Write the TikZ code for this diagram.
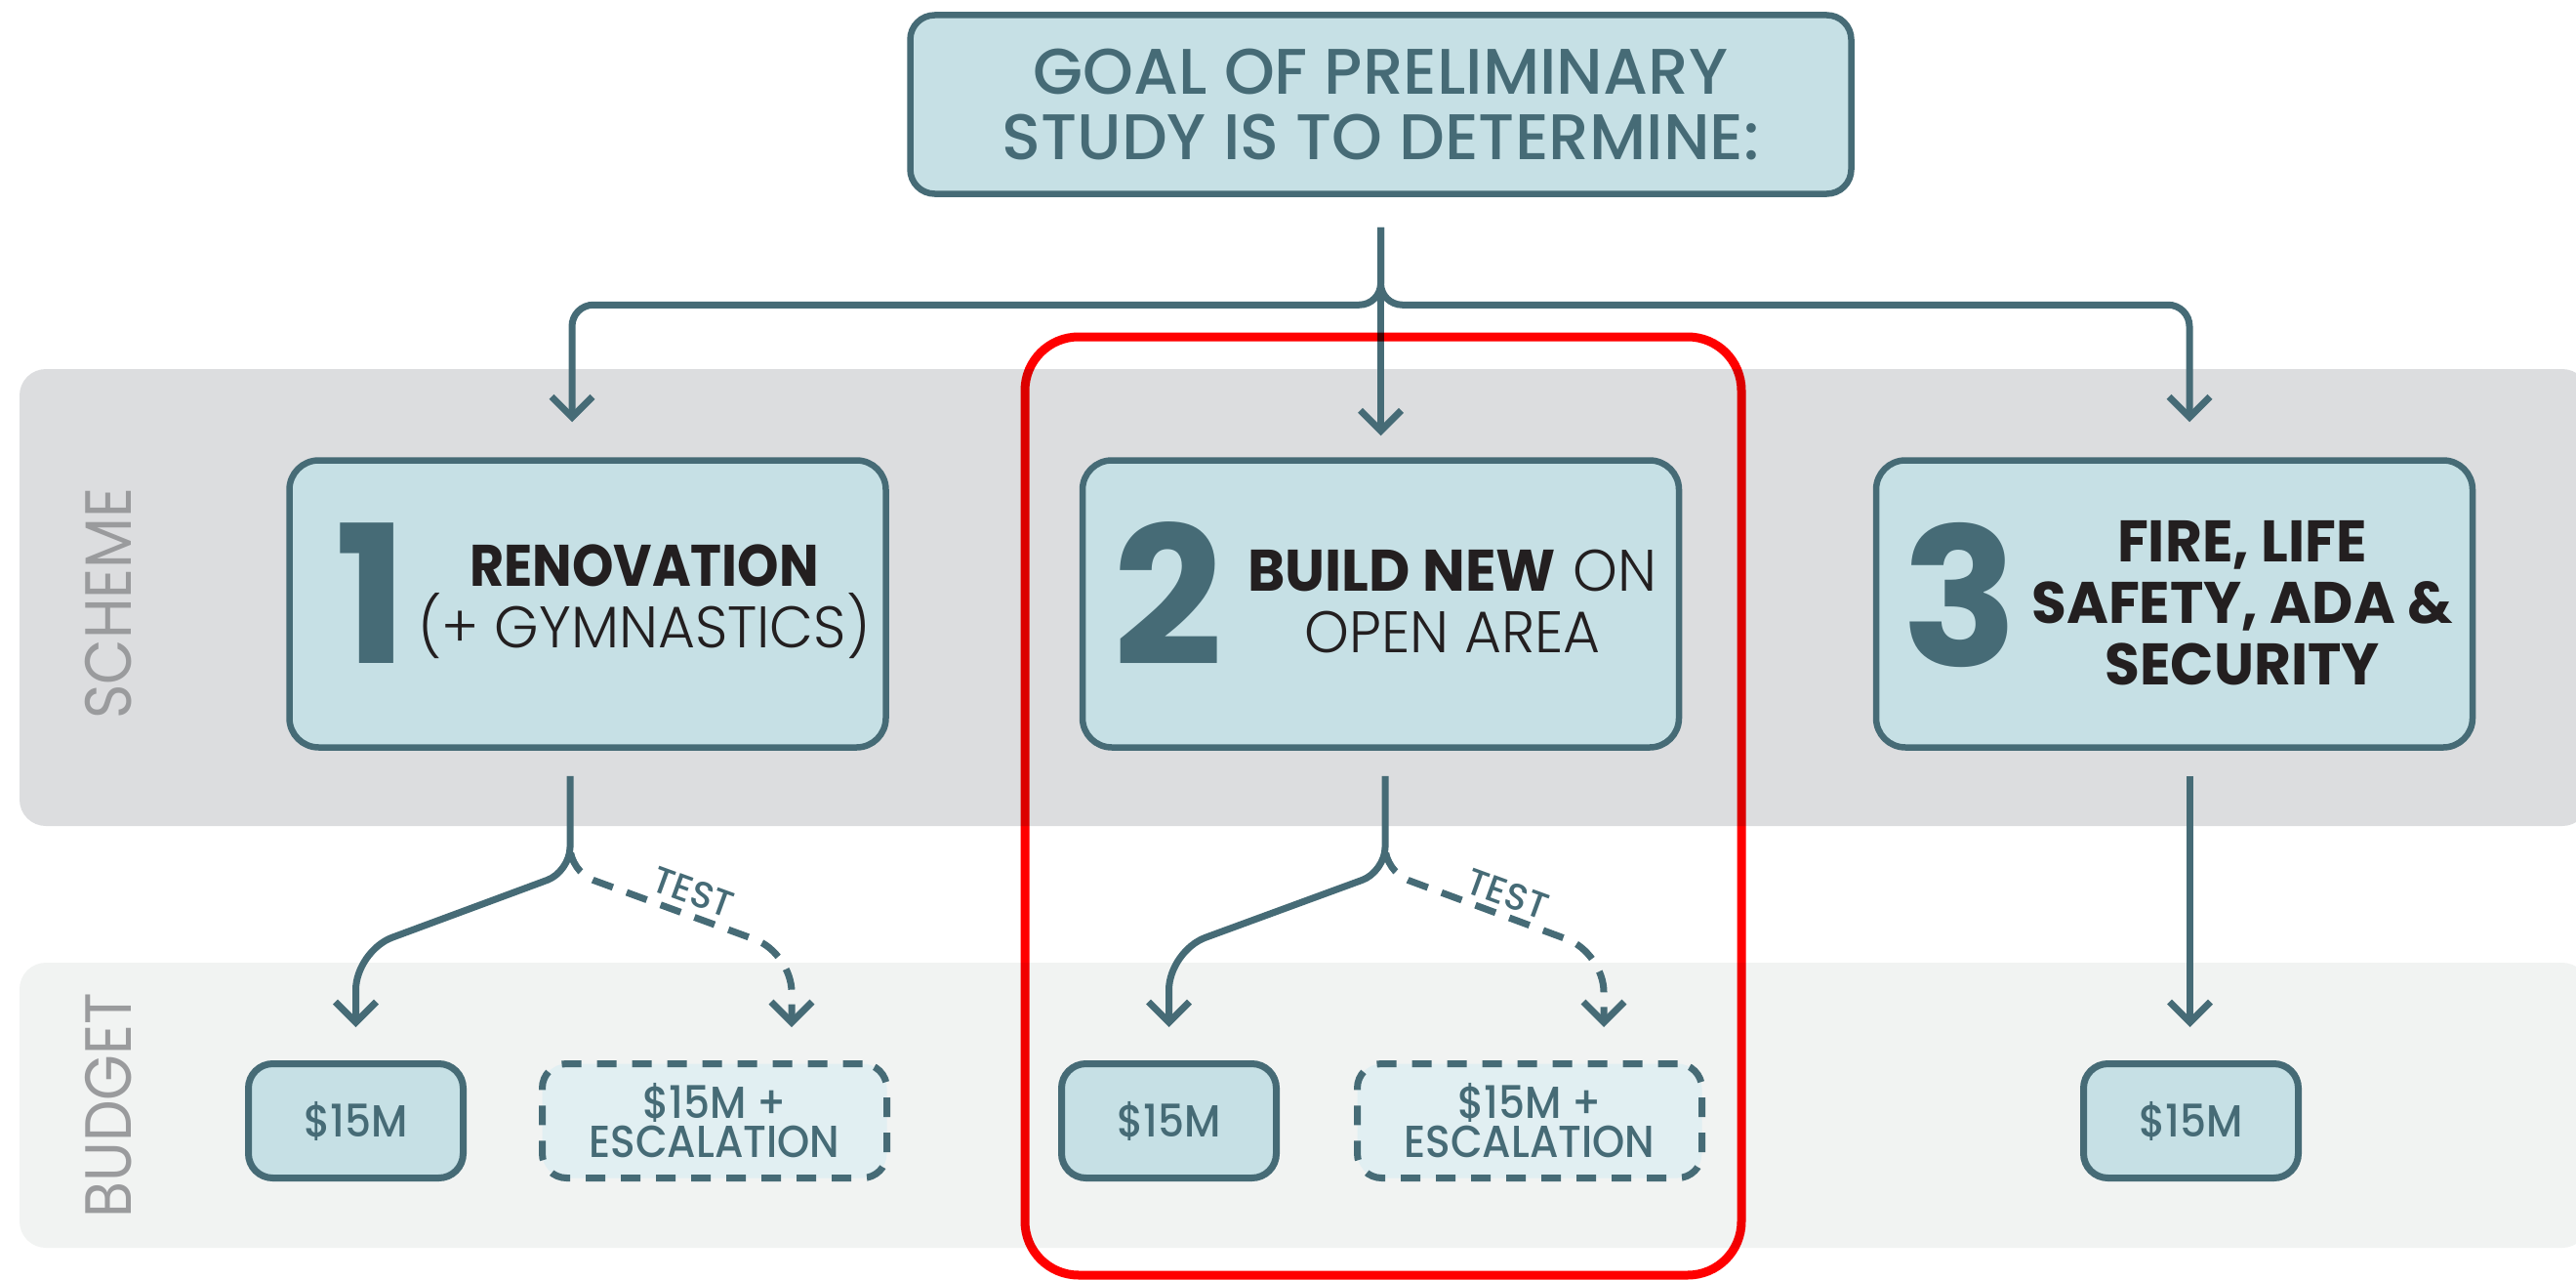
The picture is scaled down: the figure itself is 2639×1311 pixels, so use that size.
\documentclass[tikz,border=0pt]{standalone}
\usepackage{fontspec}
\usetikzlibrary{arrows.meta,calc}

% Poppins weights (fall back to the regular face where a weight is missing)
\newfontfamily\fPop{Poppins}
\newfontfamily\fPopNarrow[FakeStretch=0.9]{Poppins}
\newfontfamily\fPopSlight[FakeStretch=0.97]{Poppins}
\IfFontExistsTF{Poppins Light}
  {\newfontfamily\fLight[FakeStretch=0.97]{Poppins Light}}
  {\newfontfamily\fLight[FakeStretch=0.97]{Poppins}}
\IfFontExistsTF{Poppins Medium}
  {\newfontfamily\fMed{Poppins Medium}\newfontfamily\fMedNarrow[FakeStretch=0.92]{Poppins Medium}}
  {\newfontfamily\fMed{Poppins}\newfontfamily\fMedNarrow[FakeStretch=0.92]{Poppins}}
\newcommand\fBold{\fPop\bfseries}
\newcommand\fBoldNarrow{\fPopNarrow\bfseries}
\newcommand\fBoldSlight{\fPopSlight\bfseries}

\definecolor{ink}{HTML}{466B76}
\definecolor{boxfill}{HTML}{C6E0E5}
\definecolor{dashfill}{HTML}{E1EFF2}
\definecolor{bandscheme}{HTML}{DCDDDF}
\definecolor{bandbudget}{HTML}{F1F3F2}
\definecolor{bandtext}{HTML}{9A9B9D}
\definecolor{darktext}{HTML}{231F20}
\definecolor{hilite}{HTML}{FF0000}

\begin{document}
\begin{tikzpicture}[x=1pt,y=-1pt,
  goalbox/.style={draw=ink, line width=6.5pt, fill=boxfill, rounded corners=25pt,
    minimum width=964pt, minimum height=183pt, inner sep=0pt, align=center,
    text=ink, font=\fMed\fontsize{66}{67}\selectfont},
  schemebox/.style={draw=ink, line width=6.5pt, fill=boxfill, rounded corners=30pt,
    minimum width=611pt, minimum height=294pt, inner sep=0pt},
  budgetbox/.style={draw=ink, line width=7pt, fill=boxfill, rounded corners=25pt,
    minimum width=220pt, minimum height=117pt, inner sep=0pt, align=center,
    text=ink, font=\fMedNarrow\fontsize{46}{40}\selectfont},
  escbox/.style={budgetbox, fill=dashfill, minimum width=353pt,
    dash pattern=on 20pt off 16pt},
  num/.style={text=ink, inner sep=0pt, font=\fBold\fontsize{197}{197}\selectfont},
  stext/.style={text=darktext, inner sep=0pt, align=center,
    font=\fontsize{60}{63}\selectfont},
  bandlabel/.style={text=bandtext, rotate=90, inner sep=0pt,
    font=\fPopNarrow\fontsize{67}{67}\selectfont},
  testlabel/.style={text=ink, rotate=-20, inner sep=0pt,
    font=\fMed\fontsize{38}{38}\selectfont},
  conn/.style={draw=ink, line width=7pt},
  arr/.style={-{Straight Barb[length=21pt,width=42pt]}},
  dashconn/.style={conn, dash pattern=on 22pt off 15pt, dash phase=22pt},
]
\useasboundingbox (0,0) rectangle (2639,1311);
\clip (0,0) rectangle (2639,1311);

% background bands
\fill[bandscheme, rounded corners=27pt] (20,378) rectangle (2652,846);
\fill[bandbudget, rounded corners=27pt] (20,986) rectangle (2652,1278);
\node[bandlabel] (lscheme) at (111,618) {SCHEME};
\node[bandlabel] (lbudget) at (111,1132) {BUDGET};

% nodes
\node[goalbox] (goal) at (1414.5,107) {GOAL OF PRELIMINARY\\STUDY IS TO DETERMINE:};

\node[schemebox] (s1) at (602,618.5) {};
\node[schemebox] (s2) at (1414.5,618.5) {};
\node[schemebox] (s3) at (2227.5,618.5) {};

\node[num] (n1) at (381,608) {1};
\node[num] (n2) at (1197,608) {2};
\node[num] (n3) at (2008,610) {3};

\node[stext] (t1) at (660,616) {{\fBoldNarrow RENOVATION}\\{\fLight (+ GYMNASTICS)}};
\node[stext] (t2) at (1488,616) {{\fBoldSlight BUILD NEW} {\fLight ON}\\{\fLight OPEN AREA}};
\node[stext] (t3) at (2297,618) {\fBoldSlight FIRE, LIFE\\\fBoldSlight SAFETY, ADA \&\\\fBoldSlight SECURITY};

\node[budgetbox] (b1) at (364.5,1148) {\$15M};
\node[escbox] (e1) at (732,1148) {\$15M +\\ESCALATION};
\node[budgetbox] (b2) at (1197.5,1148) {\$15M};
\node[escbox] (e2) at (1567,1148) {\$15M +\\ESCALATION};
\node[budgetbox] (b3) at (2244.5,1148) {\$15M};

% goal to schemes
\draw[conn, arr, shorten <=31pt, shorten >=36pt, rounded corners=22pt]
  (goal.south) |- ($(s1.north)+(-16,-156)$) -- ($(s1.north)+(-16,0)$);
\draw[conn, arr, shorten <=31pt, shorten >=22pt] (goal.south) -- (s2.north);
\draw[conn, arr, shorten <=31pt, shorten >=36pt, rounded corners=22pt]
  (goal.south) |- ($(s3.north)+(15.5,-156)$) -- ($(s3.north)+(15.5,0)$);

% scheme 1 to budgets
\draw[conn, arr, shorten <=26pt, shorten >=34pt]
  ($(s1.south)+(-18,0)$) [rounded corners=25pt] -- ($(s1.south)+(-18,124)$)
  [rounded corners=40pt] -- ($(b1.north)+(0,-112)$) -- (b1.north);
\draw[dashconn, arr, shorten >=34pt]
  ($(s1.south)+(-18,90)$) [rounded corners=25pt] -- ($(s1.south)+(-18,124)$)
  [rounded corners=40pt] -- ($(e1.north)+(79,-110)$) -- ($(e1.north)+(79,0)$);
\node[testlabel] (test1) at ($(s1.south)+(108,145)$) {TEST};

% scheme 2 to budgets
\draw[conn, arr, shorten <=26pt, shorten >=34pt]
  ($(s2.south)+(4.5,0)$) [rounded corners=25pt] -- ($(s2.south)+(4.5,124)$)
  [rounded corners=40pt] -- ($(b2.north)+(0,-112)$) -- (b2.north);
\draw[dashconn, arr, shorten >=34pt]
  ($(s2.south)+(4.5,90)$) [rounded corners=25pt] -- ($(s2.south)+(4.5,124)$)
  [rounded corners=40pt] -- ($(e2.north)+(76,-110)$) -- ($(e2.north)+(76,0)$);
\node[testlabel] (test2) at ($(s2.south)+(130,147)$) {TEST};

% scheme 3 to budget
\draw[conn, arr, shorten <=26pt, shorten >=34pt]
  ($(s3.south)+(16,0)$) -- ($(b3.north)+(-1,0)$);

% highlight frame around scheme 2
\begin{scope}[blend mode=multiply]
  \draw[hilite, line width=9pt, rounded corners=55pt] (1050,345) rectangle (1784,1306);
\end{scope}
\end{tikzpicture}
\end{document}
